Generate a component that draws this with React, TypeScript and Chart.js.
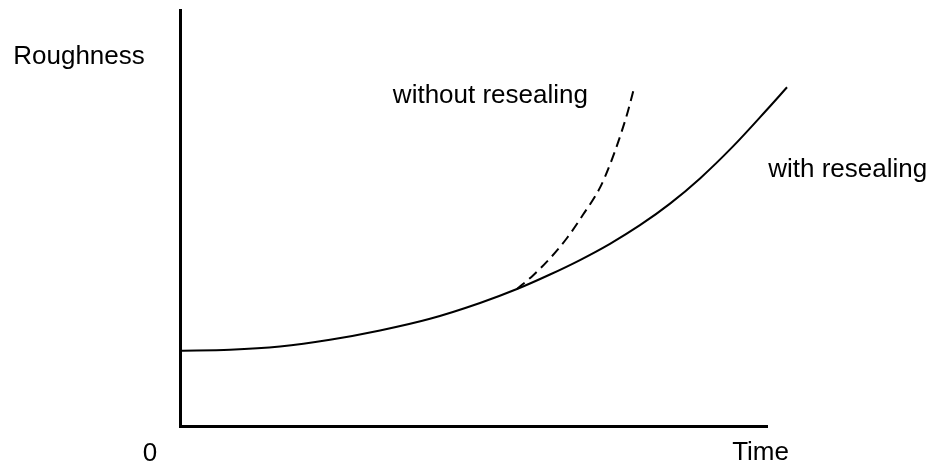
import React, { useEffect, useRef } from "react";
import { Chart, registerables } from "chart.js";

Chart.register(...registerables);

// Solid curve: roughness with resealing
const withTime = [0, 8.52, 17.04, 25.55, 34.07, 42.59, 51.11, 57.41, 63.03, 68.14, 73.25, 78.36, 83.48, 88.59, 94.21, 99.9, 103.41];
const withRough = [18.1, 18.32, 19.11, 20.72, 22.96, 25.77, 29.57, 32.93, 36.42, 39.9, 43.8, 48.27, 53.46, 59.52, 67.21, 75.9, 81.42];

// Dashed curve: roughness without resealing
const withoutTime = [57.41, 60.14, 63.03, 65.93, 68.65, 71.55, 73.25, 74.96, 76.32, 77.34];
const withoutRough = [32.93, 36.2, 40.29, 45.19, 50.77, 57.31, 62.84, 69.57, 75.72, 81.2];

// Text labels (baseline positions in data units)
const labelTexts = ["Roughness", "without resealing", "with resealing", "0", "Time"];
const labelX = [-6.0, 69.5, 100.2, -5.1, 98.9];
const labelY = [87.0, 77.6, 59.9, -8.3, -8.2];
const labelAlign: CanvasTextAlign[] = ["right", "right", "left", "center", "center"];

const FONT = "'Liberation Sans', Arial, sans-serif";

const textPlugin = {
  id: "textLabels",
  afterDraw(chart: any) {
    const { ctx, scales } = chart;
    ctx.save();
    ctx.fillStyle = "#000";
    ctx.font = `26px ${FONT}`;
    ctx.textBaseline = "alphabetic";
    labelTexts.forEach((t, i) => {
      ctx.textAlign = labelAlign[i];
      ctx.fillText(t, scales.x.getPixelForValue(labelX[i]), scales.y.getPixelForValue(labelY[i]));
    });
    ctx.restore();
  },
};

export default function App() {
  const ref = useRef<HTMLCanvasElement | null>(null);
  useEffect(() => {
    document.body.style.margin = "0";
    if (!ref.current) return;
    const chart = new Chart(ref.current, {
      type: "line",
      data: {
        datasets: [
          {
            label: "with resealing",
            data: withTime.map((x, i) => ({ x, y: withRough[i] })),
            borderColor: "#000",
            borderWidth: 2,
            pointRadius: 0,
            cubicInterpolationMode: "monotone",
            clip: false,
          } as any,
          {
            label: "without resealing",
            data: withoutTime.map((x, i) => ({ x, y: withoutRough[i] })),
            borderColor: "#000",
            borderWidth: 2,
            borderDash: [10, 6],
            pointRadius: 0,
            cubicInterpolationMode: "monotone",
            clip: false,
          } as any,
        ],
      },
      options: {
        animation: false,
        responsive: false,
        maintainAspectRatio: false,
        layout: { padding: { left: 180, right: 166, top: 10, bottom: 37 } },
        plugins: { legend: { display: false }, tooltip: { enabled: false } },
        scales: {
          x: {
            type: "linear",
            min: 0,
            max: 100,
            ticks: { display: false },
            grid: { display: false, drawTicks: false },
            border: { display: true, color: "#000", width: 3 },
          },
          y: {
            type: "linear",
            min: 0,
            max: 100,
            ticks: { display: false },
            grid: { display: false, drawTicks: false },
            border: { display: true, color: "#000", width: 3 },
          },
        },
      },
      plugins: [textPlugin],
    });
    return () => chart.destroy();
  }, []);
  return (
    <div style={{ width: 933, height: 463, background: "#fff" }}>
      <canvas ref={ref} width={933} height={463} />
    </div>
  );
}
